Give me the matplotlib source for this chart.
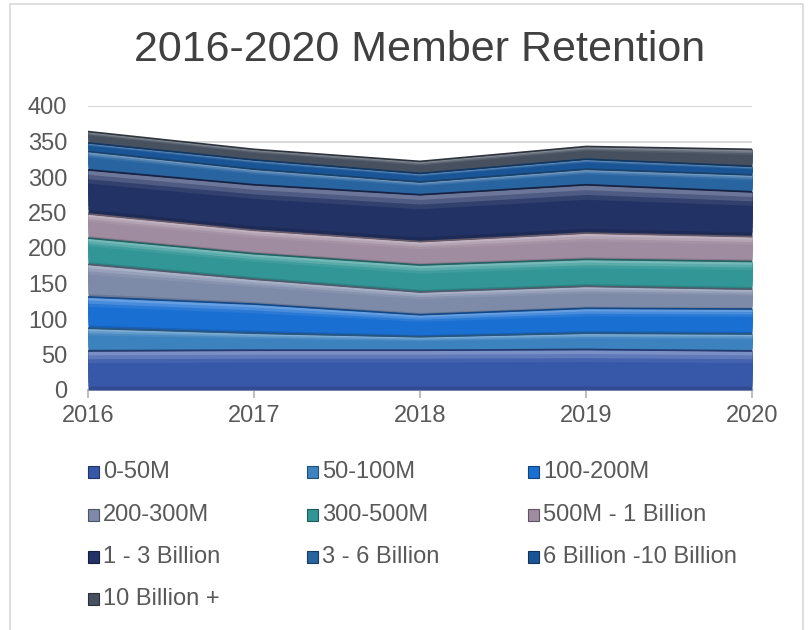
import numpy as np
import matplotlib
matplotlib.use('Agg')
import matplotlib.pyplot as plt
from matplotlib.patches import Rectangle
from matplotlib.colors import to_rgb

plt.rcParams['font.family'] = ['Liberation Sans', 'DejaVu Sans']

years = [2016, 2017, 2018, 2019, 2020]
labels = ['0-50M', '50-100M', '100-200M', '200-300M', '300-500M',
          '500M - 1 Billion', '1 - 3 Billion', '3 - 6 Billion',
          '6 Billion -10 Billion', '10 Billion +']
m0_50 = [55, 56, 56, 57, 55]
m50_100 = [32, 24, 19, 23, 24]
m100_200 = [44, 41, 31, 35, 35]
m200_300 = [46, 35, 32, 31, 28]
m300_500 = [37, 36, 38, 38, 39]
m500_1b = [34, 33, 33, 37, 35]
b1_3 = [62, 64, 66, 68, 63]
b3_6 = [26, 22, 18, 22, 24]
b6_10 = [12, 13, 12, 14, 12]
b10_plus = [16, 15, 17, 18, 24]

series = [m0_50, m50_100, m100_200, m200_300, m300_500,
          m500_1b, b1_3, b3_6, b6_10, b10_plus]
colors = ['#3757a8', '#3c82be', '#1a6fd2', '#7d8aa8', '#329696',
          '#a08ca0', '#233264', '#2864a0', '#195596', '#46505f']

W, H = 809, 630
fig = plt.figure(figsize=(W / 100, H / 100), dpi=100)
ax = fig.add_axes([88 / W, 1 - 390 / H, (752 - 88) / W, (390 - 106) / H])

def lighten(c, f):
    r = np.array(to_rgb(c))
    return tuple(r + (1 - r) * f)

def darken(c, f):
    return tuple(np.array(to_rgb(c)) * (1 - f))

x = np.array(years, dtype=float)
base = np.zeros(len(years))
for vals, col in zip(series, colors):
    top = base + np.array(vals)
    h = top - base
    # paint from the bottom up, each layer covering to the top: soft bevel
    n = 10
    for k in range(n):
        lo = base + h * k / n
        t = (k + 0.5) / n
        if t > 0.7:
            c = lighten(col, 0.4 * (t - 0.7) / 0.3)
        elif t < 0.15:
            c = darken(col, 0.2 * (0.15 - t) / 0.15)
        else:
            c = col
        ax.fill_between(x, lo, top, color=c, lw=0, zorder=2)
    ax.plot(x, top, color=darken(col, 0.35), lw=1.2, zorder=3)
    base = top

ax.set_xlim(2016, 2020)
ax.set_ylim(0, 400)
ax.set_yticks(range(0, 401, 50))
ax.set_xticks(years)
ax.grid(axis='y', color='#d9d9d9', lw=1.5, zorder=0)
ax.set_axisbelow(True)
for s in ['left', 'right', 'top']:
    ax.spines[s].set_visible(False)
ax.spines['bottom'].set_color('#bfbfbf')
ax.spines['bottom'].set_linewidth(1.5)
ax.spines['bottom'].set_zorder(1)
ax.tick_params(axis='y', length=0, pad=15, labelsize=17, labelcolor='#595959')
ax.tick_params(axis='x', length=6, width=1.5, color='#bfbfbf', pad=5,
               labelsize=17, labelcolor='#595959')

fig.text(420 / W, 1 - 50 / H, '2016-2020 Member Retention', fontsize=31,
         color='#404040', ha='center', va='center')

# legend laid out in three columns, row by row
col_x = [88, 307, 528]
row_y = [472, 515, 557, 599]
for i, (lab, col) in enumerate(zip(labels, colors)):
    cx = col_x[i % 3]
    cy = row_y[i // 3]
    fig.patches.append(Rectangle((cx / W, 1 - (cy + 6) / H), 11 / W, 12 / H,
                                 transform=fig.transFigure, facecolor=col,
                                 edgecolor=darken(col, 0.4), lw=0.8))
    fig.text((cx + 15) / W, 1 - cy / H, lab, fontsize=17, color='#595959',
             ha='left', va='center')

# chart border
fig.patches.append(Rectangle((10 / W, -0.1), (803 - 10) / W, 1.1 - 4 / H,
                             transform=fig.transFigure, fill=False,
                             edgecolor='#d9d9d9', lw=1.2))

fig.savefig('out.png', dpi=100, facecolor='white')
